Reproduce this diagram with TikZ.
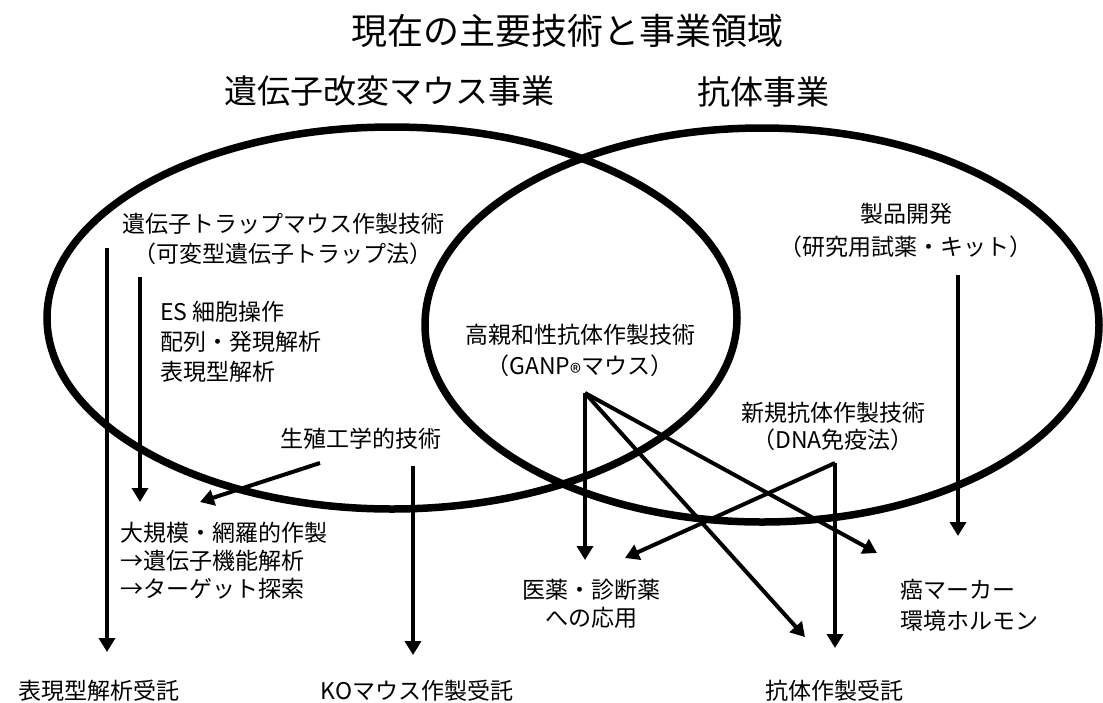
\documentclass[tikz,border=0pt]{standalone}
\usepackage{fontspec}
\setmainfont{Noto Sans CJK JP}
\usetikzlibrary{arrows.meta}

\tikzset{
  ring/.style={draw, line width=7.5pt},
  arr/.style={line width=4pt, -{Triangle[length=14pt, width=16pt]}},
  head/.style={inner sep=0pt, font=\fontsize{33}{33}\selectfont},
  txt/.style={inner sep=0pt, align=center, font=\fontsize{23}{30}\selectfont},
  txtl/.style={txt, align=left, anchor=west}
}

\begin{document}
\begin{tikzpicture}[x=1pt, y=-1pt]

                \useasboundingbox (0,0) rectangle (1103,702);

                % Titles
                \node[head, font=\fontsize{36}{36}\selectfont] (title) at (567,31) {現在の主要技術と事業領域};
                \node[head] (mousebiz) at (389,91) {遺伝子改変マウス事業};
                \node[head] (antibiz) at (763,92) {抗体事業};

                % Business areas
                \draw[ring] (392,318) ellipse [x radius=345, y radius=191];
                \draw[ring] (762,325) ellipse [x radius=337, y radius=197];

                % Technologies
                \node[txt] (trap) at (283,239) {遺伝子トラップマウス作製技術\\（可変型遺伝子トラップ法）};
                \node[txtl] (es) at (160,342) {ES 細胞操作\\配列・発現解析\\表現型解析};
                \node[txt] (repro) at (361,439) {生殖工学的技術};
                \node[txtl, font=\fontsize{23}{28}\selectfont] (largescale) at (120,561) {大規模・網羅的作製\\→遺伝子機能解析\\→ターゲット探索};
                \node[txt, font=\fontsize{23}{31}\selectfont] (ganp) at (580,353) {高親和性抗体作製技術\\（GANP\raisebox{-0.28em}{®}マウス）};
                \node[txt, font=\fontsize{23}{27}\selectfont] (dna) at (833,426) {新規抗体作製技術\\（DNA免疫法）};
                \node[txt, font=\fontsize{23}{33}\selectfont] (product) at (906,230) {製品開発\\（研究用試薬・キット）};
                \node[txt, font=\fontsize{23}{28}\selectfont] (pharma) at (591,604) {医薬・診断薬\\への応用};
                \node[txtl, font=\fontsize{23}{31}\selectfont] (marker) at (900,605) {癌マーカー\\環境ホルモン};

                % Services
                \node[txt] (phenosvc) at (99,691) {表現型解析受託};
                \node[txt] (kosvc) at (417,691) {KOマウス作製受託};
                \node[txt] (antisvc) at (834,691) {抗体作製受託};

                % Arrows
                \coordinate (trapA) at (107,248);
                \coordinate (trapB) at (140,277);
                \coordinate (reproA) at (320,463);
                \coordinate (reproB) at (413,466);
                \coordinate (ganpfork) at (585,393);
                \coordinate (dnafork) at (835,463);
                \coordinate (prodA) at (958,275);

                \draw[arr] (trapA) -- (107,652) coordinate (phenotip);
                \draw[arr] (trapB) -- (140,502) coordinate (largetipA);
                \draw[arr] (reproA) -- (200,502) coordinate (largetipB);
                \draw[arr] (reproB) -- (413,655) coordinate (kotip);

                \draw[arr] (ganpfork) -- (585,560) coordinate (pharmatipA);
                \draw[arr] (ganpfork) -- (805,637) coordinate (antitipA);
                \draw[arr] (ganpfork) -- (877,553) coordinate (markertipA);

                \draw[arr] (dnafork) -- (835,648) coordinate (antitipB);
                \draw[arr] (dnafork) -- (625,558) coordinate (pharmatipB);

                \draw[arr] (prodA) -- (958,536) coordinate (markertipB);

            \end{tikzpicture}
\end{document}
